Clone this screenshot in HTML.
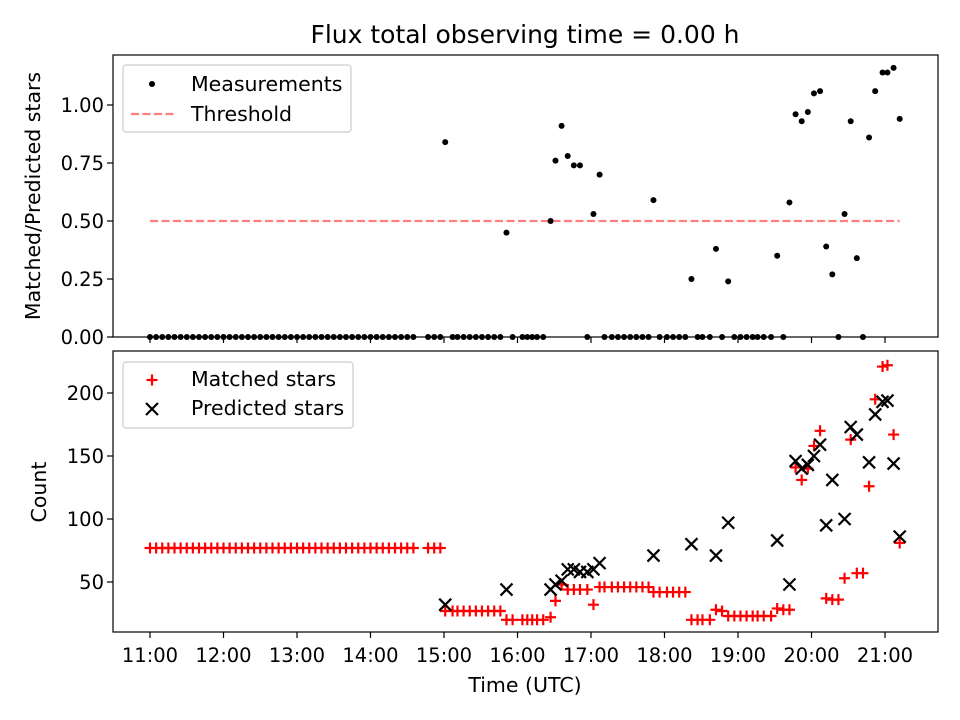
<!DOCTYPE html>
<html><head><meta charset="utf-8"><style>
html,body{margin:0;padding:0;background:#fff;}
svg{display:block;font-family:"DejaVu Sans","Liberation Sans",sans-serif;}
</style></head><body>
<svg id="chart" width="960" height="720" viewBox="0 0 960 720" xmlns="http://www.w3.org/2000/svg"></svg>
<script>
const tickLabels = ["11:00","12:00","13:00","14:00","15:00","16:00","17:00","18:00","19:00","20:00","21:00"];
const tickMinutes = [0,60,120,180,240,300,360,420,480,540,600];
const ratioTicks = [0,0.25,0.5,0.75,1.0];
const countTicks = [50,100,150,200];
const threshold = 0.5;

const ratioTimes = [0,5,10,15,20,25,30,35,40,45,50,55,60,65,70,75,80,85,90,95,100,105,110,115,120,125,130,135,140,145,150,155,160,165,170,175,180,185,190,195,200,205,210,215,
227,232,237,241,247,251,256,261,266,271,276,281,286,291,296,304,308,312,316,321,327,331,336,341,346,351,357,362,367,371,377,382,387,392,397,402,407,411,416,422,427,432,437,442,447,451,457,462,467,472,477,482,487,492,496,501,507,512,517,522,527,532,537,542,547,552,557,562,567,572,577,582,587,592,598,602,607,612];
const ratioValues = [0,0,0,0,0,0,0,0,0,0,0,0,0,0,0,0,0,0,0,0,0,0,0,0,0,0,0,0,0,0,0,0,0,0,0,0,0,0,0,0,0,0,0,0,
0,0,0,0.84,0,0,0,0,0,0,0,0,0,0.45,0,0,0,0,0,0,0.50,0.76,0.91,0.78,0.74,0.74,0,0.53,0.70,0,0,0,0,0,0,0,0,0.59,0,0,0,0,0,0.25,0,0,0,0.38,0,0.24,0,0,0,0,0,0,0,0.35,0,0.58,0.96,0.93,0.97,1.05,1.06,0.39,0.27,0,0.53,0.93,0.34,0,0.86,1.06,1.14,1.14,1.16,0.94];

const matchedTimes = [0,5,10,15,20,25,30,35,40,45,50,55,60,65,70,75,80,85,90,95,100,105,110,115,120,125,130,135,140,145,150,155,160,165,170,175,180,185,190,195,200,205,210,215,
227,232,237,241,247,251,256,261,266,271,276,281,286,291,296,304,308,312,316,321,327,331,336,341,346,351,357,362,367,371,377,382,387,392,397,402,407,411,416,422,427,432,437,442,447,451,457,462,467,472,477,482,487,492,496,501,507,512,517,522,527,532,537,542,547,552,557,562,567,572,577,582,587,592,598,602,607,612];
const matchedValues = [77,77,77,77,77,77,77,77,77,77,77,77,77,77,77,77,77,77,77,77,77,77,77,77,77,77,77,77,77,77,77,77,77,77,77,77,77,77,77,77,77,77,77,77,
77,77,77,27,27,27,27,27,27,27,27,27,27,20,20,20,20,20,20,20,22,35,48,44,44,44,44,32,46,46,46,46,46,46,46,46,46,42,42,42,42,42,42,20,20,20,20,28,27,23,23,23,23,23,23,23,23,29,28,28,141,131,140,158,170,37,36,36,53,163,57,57,126,195,221,222,167,81];

const predictedTimes = [241,291,327,331,336,341,346,351,357,362,367,411,442,462,472,512,522,527,532,537,542,547,552,557,567,572,577,587,592,598,602,607,612];
const predictedValues = [32,44,44,48,51,60,60,58,58,60,65,71,80,71,97,83,48,146,140,143,150,159,95,131,100,173,167,145,183,193,194,144,86];

const NS="http://www.w3.org/2000/svg";
const svg=document.getElementById('chart');
function mk(tag,attrs,parent){const e=document.createElementNS(NS,tag);for(const k in attrs)e.setAttribute(k,attrs[k]);(parent||svg).appendChild(e);return e;}
function xs(m){return 150+m*73.5/60;}
function yTop(v){return 337-v*232;}
function yBot(v){return 645-v*1.26;}
const L=113,R=938,T1=55,B1=337,T2=351,B2=632;
const FS='19.5';
const LFS='20.5';

let t=mk('text',{x:525,y:43,'font-size':'25','text-anchor':'middle',fill:'#000'});
t.textContent='Flux total observing time = 0.00 h';



// top panel
const g1=mk('g',{});


let thr=mk('line',{x1:xs(ratioTimes[0]),x2:xs(ratioTimes[ratioTimes.length-1]),y1:yTop(threshold),y2:yTop(threshold),stroke:'#ff7f7f','stroke-width':2.2,'stroke-dasharray':'8,3.5'},g1);


ratioTimes.forEach((m,i)=>{
  const c=mk('circle',{cx:xs(m),cy:yTop(ratioValues[i]),r:3,fill:'#000'},g1);
  
  
});
mk('rect',{x:L,y:T1,width:R-L,height:B1-T1,fill:'none',stroke:'#000','stroke-width':1.2},g1);
ratioTicks.forEach(v=>{
  const y=yTop(v);
  mk('line',{x1:L-6,x2:L,y1:y,y2:y,stroke:'#000','stroke-width':1.2},g1);
  const tx=mk('text',{x:L-9,y:y+7,'font-size':FS,'text-anchor':'end'},g1);
  tx.textContent=v.toFixed(2);
  
  
});
tickMinutes.forEach(m=>{mk('line',{x1:xs(m),x2:xs(m),y1:B1,y2:B1+6,stroke:'#000','stroke-width':1.2},g1);});
let yl1=mk('text',{x:0,y:0,'font-size':LFS,'text-anchor':'middle',transform:'translate(40,196) rotate(-90)'},g1);
yl1.textContent='Matched/Predicted stars';


// legend 1
const lg1=mk('g',{},g1);


mk('rect',{x:123,y:65,width:228,height:67,rx:3,fill:'#fff',stroke:'#ccc','stroke-width':1.2},lg1);
mk('circle',{cx:152,cy:84,r:3,fill:'#000'},lg1);
let lt=mk('text',{x:191,y:91,'font-size':LFS},lg1);lt.textContent='Measurements';
mk('line',{x1:131,x2:174,y1:114,y2:114,stroke:'#ff7f7f','stroke-width':2.2,'stroke-dasharray':'8,3.5'},lg1);
lt=mk('text',{x:191,y:121,'font-size':LFS},lg1);lt.textContent='Threshold';

// bottom panel
const g2=mk('g',{});


function plus(x,y,parent){mk('path',{d:`M${x-5.5},${y}H${x+5.5}M${x},${y-5.5}V${y+5.5}`,stroke:'#f00','stroke-width':2.2},parent);}
function cross(x,y,parent){mk('path',{d:`M${x-6},${y-6}L${x+6},${y+6}M${x-6},${y+6}L${x+6},${y-6}`,stroke:'#000','stroke-width':2.2},parent);}
matchedTimes.forEach((m,i)=>{
  const g=mk('g',{},g2);
  
  
  plus(xs(m),yBot(matchedValues[i]),g);
});
predictedTimes.forEach((m,i)=>{
  const g=mk('g',{},g2);
  
  
  cross(xs(m),yBot(predictedValues[i]),g);
});
mk('rect',{x:L,y:T2,width:R-L,height:B2-T2,fill:'none',stroke:'#000','stroke-width':1.2},g2);
countTicks.forEach(v=>{
  const y=yBot(v);
  mk('line',{x1:L-6,x2:L,y1:y,y2:y,stroke:'#000','stroke-width':1.2},g2);
  const tx=mk('text',{x:L-9,y:y+7,'font-size':FS,'text-anchor':'end'},g2);
  tx.textContent=String(v);
  
  
});
tickMinutes.forEach((m,i)=>{
  mk('line',{x1:xs(m),x2:xs(m),y1:B2,y2:B2+6,stroke:'#000','stroke-width':1.2},g2);
  const tx=mk('text',{x:xs(m),y:B2+30,'font-size':FS,'text-anchor':'middle'},g2);
  tx.textContent=tickLabels[i];
  
  
});
let xl=mk('text',{x:525,y:692,'font-size':LFS,'text-anchor':'middle'},g2);
xl.textContent='Time (UTC)';


let yl2=mk('text',{x:0,y:0,'font-size':LFS,'text-anchor':'middle',transform:'translate(46,492) rotate(-90)'},g2);
yl2.textContent='Count';


const lg2=mk('g',{},g2);


mk('rect',{x:123,y:362,width:230,height:66,rx:3,fill:'#fff',stroke:'#ccc','stroke-width':1.2},lg2);
plus(152,380,lg2);
lt=mk('text',{x:191,y:386,'font-size':LFS},lg2);lt.textContent='Matched stars';
cross(152,409,lg2);
lt=mk('text',{x:191,y:415,'font-size':LFS},lg2);lt.textContent='Predicted stars';
</script>
</body></html>
